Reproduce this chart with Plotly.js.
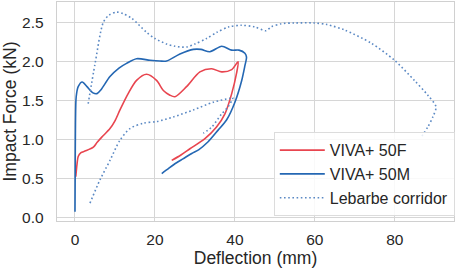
<!DOCTYPE html>
<html>
<head>
<meta charset="utf-8">
<script src="https://cdn.plot.ly/plotly-3.0.1.min.js"></script>
<style>html,body{margin:0;padding:0;background:#fff;}#chart{width:457px;height:271px;}</style>
</head>
<body>
<div id="chart"></div>
<script>
// VIVA+ 50F (female)
var femaleX = [0.2, 0.5, 0.8, 1.5, 2.5, 4.6, 5.5, 6.7, 8.75, 10, 11.25, 13.3, 15.4, 17.9, 20.4, 22.1, 23.75, 25, 27.9, 31.25, 34.2, 36.7, 39.2, 40.8, 40.4, 39.2, 37.5, 35.4, 32.5, 28.75, 26.5, 24.2];
var femaleY = [0.52, 0.68, 0.78, 0.83, 0.85, 0.90, 0.96, 1.03, 1.14, 1.24, 1.38, 1.59, 1.76, 1.84, 1.76, 1.63, 1.57, 1.55, 1.68, 1.87, 1.91, 1.87, 1.90, 2.00, 1.85, 1.59, 1.33, 1.16, 1.01, 0.88, 0.80, 0.73];

// VIVA+ 50M (male)
var maleX = [0, 0.05, 0.12, 0.3, 0.8, 1.8, 3, 4.5, 5.5, 6.5, 8.75, 11, 12.9, 15.4, 18.75, 21.25, 22.9, 26.25, 29.6, 31.5, 33.75, 36.7, 39.2, 41, 42.5, 42.9, 42.5, 41.7, 40, 37.9, 35.8, 33.3, 31, 29.2, 27, 25.4, 23.5, 21.7];
var maleY = [0.07, 0.6, 1.2, 1.55, 1.68, 1.74, 1.68, 1.60, 1.59, 1.64, 1.81, 1.92, 1.98, 2.04, 2.02, 2.01, 2.01, 2.10, 2.16, 2.16, 2.13, 2.20, 2.15, 2.15, 2.11, 2.06, 1.95, 1.76, 1.48, 1.25, 1.12, 0.97, 0.87, 0.82, 0.75, 0.70, 0.63, 0.56];

// Lebarbe corridor, upper bound
var corridorUpperX = [3.3, 5, 7.1, 8.5, 10.4, 12, 14.2, 17.9, 20, 22.9, 25, 27.9, 30, 32.9, 35.5, 38.5, 41.6, 44.9, 47.8, 49.1, 51.6, 55, 59.9, 63, 67.4, 74.1, 79.9, 84.9, 88.25, 90.3, 89.5, 88.25, 86.6];
var corridorUpperY = [1.46, 1.97, 2.51, 2.60, 2.64, 2.62, 2.56, 2.38, 2.30, 2.23, 2.20, 2.19, 2.23, 2.30, 2.38, 2.45, 2.47, 2.45, 2.40, 2.45, 2.49, 2.50, 2.50, 2.48, 2.41, 2.24, 2.02, 1.76, 1.57, 1.42, 1.29, 1.16, 1.03];

// Lebarbe corridor, lower bound
var corridorLowerX = [3.75, 6.25, 8.75, 11.25, 13.75, 17.1, 20.4, 24.6, 29.6, 34.6, 38.75, 39.5, 38.3, 36.7, 34.2, 32.1];
var corridorLowerY = [0.18, 0.48, 0.73, 0.99, 1.14, 1.21, 1.23, 1.29, 1.38, 1.48, 1.53, 1.54, 1.42, 1.33, 1.16, 1.08];

var xTicks = [0, 20, 40, 60, 80];
var yTicks = [0, 0.5, 1.0, 1.5, 2.0, 2.5];
var yTickText = ['0.0', '0.5', '1.0', '1.5', '2.0', '2.5'];

var red = '#e8454f', blue = '#2467b3', lightBlue = '#5b89c4';
var FONT = 'Liberation Sans, Arial, sans-serif';
var DOT = '1.6px,2.6px';

var traces = [
  {x: femaleX, y: femaleY, mode: 'lines', name: 'VIVA+ 50F',
   line: {color: red, width: 1.6, shape: 'spline', smoothing: 0.8}},
  {x: maleX, y: maleY, mode: 'lines', name: 'VIVA+ 50M',
   line: {color: blue, width: 1.6, shape: 'spline', smoothing: 0.8}},
  {x: corridorUpperX, y: corridorUpperY, mode: 'lines', name: 'Lebarbe corridor',
   line: {color: lightBlue, width: 1.6, dash: DOT, shape: 'spline', smoothing: 0.8}},
  {x: corridorLowerX, y: corridorLowerY, mode: 'lines', name: 'Lebarbe corridor', showlegend: false,
   line: {color: lightBlue, width: 1.6, dash: DOT, shape: 'spline', smoothing: 0.8}}
];

var axisCommon = {
  showline: true, mirror: true, linecolor: '#d0d0d0', linewidth: 1.3,
  showgrid: true, gridcolor: '#d6d6d6', gridwidth: 1,
  zeroline: false, ticks: 'outside', tickcolor: 'rgba(0,0,0,0)',
  tickfont: {family: FONT, size: 15.5, color: '#262626'}
};

var layout = {
  width: 457, height: 271,
  margin: {l: 57, r: 3, t: 2, b: 50},
  paper_bgcolor: '#ffffff', plot_bgcolor: '#ffffff',
  font: {family: FONT, color: '#262626'},
  showlegend: true,
  xaxis: Object.assign({}, axisCommon, {
    range: [-4.5, 94.8], tickvals: xTicks, ticklen: 4,
    title: {text: 'Deflection (mm)', font: {family: FONT, size: 17.5, color: '#262626'}, standoff: 4}
  }),
  yaxis: Object.assign({}, axisCommon, {
    range: [-0.05, 2.77], tickvals: yTicks, ticktext: yTickText, ticklen: 9,
    title: {text: 'Impact Force (kN)', font: {family: FONT, size: 17.5, color: '#262626'}, standoff: 8}
  }),
  legend: {
    x: 1.002, xanchor: 'right', y: 0.022, yanchor: 'bottom',
    bgcolor: 'rgba(255,255,255,0.85)', bordercolor: '#dcdcdc', borderwidth: 1,
    font: {family: FONT, size: 16, color: '#262626'},
    tracegroupgap: 0, itemwidth: 45
  }
};

Plotly.newPlot('chart', traces, layout, {displayModeBar: false, staticPlot: true});
</script>
</body>
</html>
